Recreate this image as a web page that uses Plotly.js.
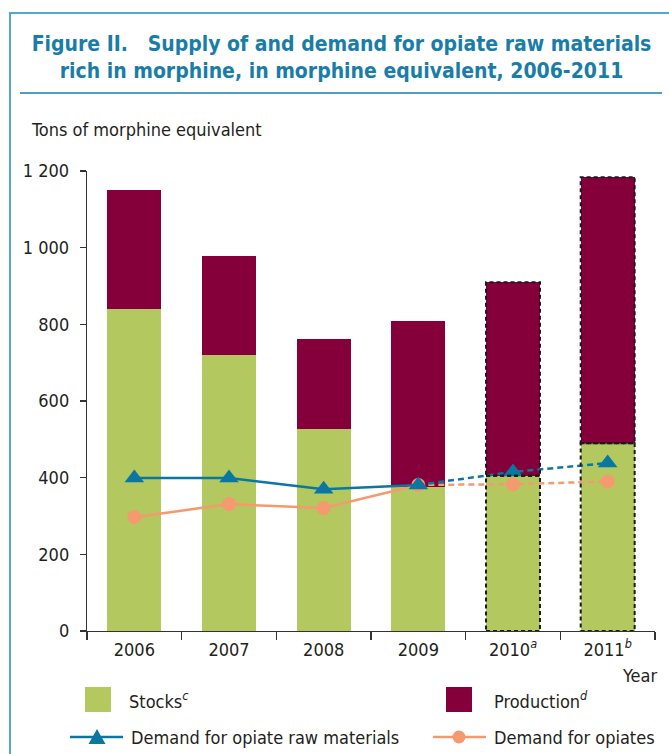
<!DOCTYPE html>
<html>
<head>
<meta charset="utf-8">
<script src="https://cdn.plot.ly/plotly-3.0.1.min.js"></script>
<style>
  html, body { margin: 0; padding: 0; background: #ffffff; }
  #chart { width: 669px; height: 754px; }
</style>
</head>
<body>
<div id="chart"></div>
<script>
// ---- Data ----
const years = ['2006', '2007', '2008', '2009', '2010', '2011'];
const yearLabels = ['2006', '2007', '2008', '2009', '2010<sup><i>a</i></sup>', '2011<sup><i>b</i></sup>'];
const stocks = [840, 720, 527, 376, 405, 490];
const production = [310, 258, 235, 433, 505, 694];
const demandRawMaterials = [399, 399, 370, 381, 415, 438];
const demandOpiates = [297, 331, 321, 381, 383, 390];
const estimated = [false, false, false, false, true, true];
const yTicks = [0, 200, 400, 600, 800, 1000, 1200];

// ---- Styles ----
const FONT = '"DejaVu Sans Condensed", "Liberation Sans Narrow", "Arial Narrow", sans-serif';
const FS = 18;
const TXT = '#231f20';
const C_STOCK = '#b3c85f';
const C_PROD = '#85003a';
const C_BLUE = '#0a77a3';
const C_ORANGE = '#f59a6e';
const C_TITLE = '#1a7da8';
const C_FRAME = '#52a8cc';
const BAR_W = 0.57;

// plot area in pixels (for decorations)
const L = 87, R = 655, T = 171, B = 631;
const px = x => (x - L) / (R - L);
const py = y => (B - y) / (B - T);

const nSolid = 4; // 2006-2009 solid, 2009-2011 dashed
const solidX = years.slice(0, nSolid);
const dashX = years.slice(nSolid - 1);

const traces = [
  { type: 'bar', name: 'Stocks', x: years, y: stocks, marker: { color: C_STOCK }, showlegend: false },
  { type: 'bar', name: 'Production', x: years, y: production, marker: { color: C_PROD }, showlegend: false },
  { type: 'scatter', mode: 'lines', x: solidX, y: demandOpiates.slice(0, nSolid), line: { color: C_ORANGE, width: 2.5 }, showlegend: false },
  { type: 'scatter', mode: 'lines', x: dashX, y: demandOpiates.slice(nSolid - 1), line: { color: C_ORANGE, width: 2.5, dash: '6px,4px' }, showlegend: false },
  { type: 'scatter', mode: 'markers', name: 'Demand for opiates', x: years, y: demandOpiates, marker: { color: C_ORANGE, size: 14, symbol: 'circle' }, showlegend: false },
  { type: 'scatter', mode: 'lines', x: solidX, y: demandRawMaterials.slice(0, nSolid), line: { color: C_BLUE, width: 2.5 }, showlegend: false },
  { type: 'scatter', mode: 'lines', x: dashX, y: demandRawMaterials.slice(nSolid - 1), line: { color: C_BLUE, width: 2.5, dash: '6px,4px' }, showlegend: false },
  { type: 'scatter', mode: 'markers', name: 'Demand for opiate raw materials', x: years, y: demandRawMaterials, marker: { color: C_BLUE, size: 17, symbol: 'triangle-up' }, showlegend: false }
];

const shapes = [];
// dashed outlines of estimated bars (built from the data)
estimated.forEach((est, i) => {
  if (!est) return;
  const seg = [[0, stocks[i]], [stocks[i], stocks[i] + production[i]]];
  seg.forEach(([a, b]) => {
    shapes.push({ type: 'rect', xref: 'x', yref: 'y', x0: i - BAR_W / 2, x1: i + BAR_W / 2, y0: a, y1: b,
      line: { color: '#1a1a1a', width: 2, dash: '4px,3px' }, fillcolor: 'rgba(0,0,0,0)', layer: 'above' });
  });
});
// frame and title rule
shapes.push({ type: 'line', xref: 'paper', yref: 'paper', x0: px(10), x1: px(10), y0: py(13), y1: py(760), line: { color: C_FRAME, width: 2 } });
shapes.push({ type: 'line', xref: 'paper', yref: 'paper', x0: px(9), x1: px(675), y0: py(13), y1: py(13), line: { color: C_FRAME, width: 2 } });
shapes.push({ type: 'line', xref: 'paper', yref: 'paper', x0: px(20), x1: px(662), y0: py(93), y1: py(93), line: { color: C_TITLE, width: 1.3 } });
// legend symbols
shapes.push({ type: 'rect', xref: 'paper', yref: 'paper', x0: px(85), x1: px(111), y0: py(712), y1: py(687), fillcolor: C_STOCK, line: { width: 0 } });
shapes.push({ type: 'rect', xref: 'paper', yref: 'paper', x0: px(446), x1: px(472), y0: py(712), y1: py(687), fillcolor: C_PROD, line: { width: 0 } });
shapes.push({ type: 'line', xref: 'paper', yref: 'paper', x0: px(70), x1: px(123), y0: py(737), y1: py(737), line: { color: C_BLUE, width: 2.5 } });
shapes.push({ type: 'path', xref: 'paper', yref: 'paper',
  path: `M ${px(88.5)} ${py(744)} L ${px(105.5)} ${py(744)} L ${px(97)} ${py(729)} Z`, fillcolor: C_BLUE, line: { width: 0 } });
shapes.push({ type: 'line', xref: 'paper', yref: 'paper', x0: px(433), x1: px(486), y0: py(737), y1: py(737), line: { color: C_ORANGE, width: 2.5 } });
shapes.push({ type: 'circle', xref: 'paper', yref: 'paper', x0: px(452.5), x1: px(465.5), y0: py(743.5), y1: py(730.5), fillcolor: C_ORANGE, line: { width: 0 } });

const annFont = { family: FONT, size: FS, color: TXT };
const annotations = [
  { xref: 'paper', yref: 'paper', x: px(29), y: py(130), xanchor: 'left', yanchor: 'middle', showarrow: false, text: 'Tons of morphine equivalent', font: annFont },
  { xref: 'paper', yref: 'paper', x: px(659), y: py(675), xanchor: 'right', yanchor: 'middle', showarrow: false, text: 'Year', font: annFont },
  { xref: 'paper', yref: 'paper', x: px(127), y: py(700), xanchor: 'left', yanchor: 'middle', showarrow: false, text: 'Stocks<sup><i>c</i></sup>', font: annFont },
  { xref: 'paper', yref: 'paper', x: px(492), y: py(700), xanchor: 'left', yanchor: 'middle', showarrow: false, text: 'Production<sup><i>d</i></sup>', font: annFont },
  { xref: 'paper', yref: 'paper', x: px(129), y: py(737), xanchor: 'left', yanchor: 'middle', showarrow: false, text: 'Demand for opiate raw materials', font: annFont },
  { xref: 'paper', yref: 'paper', x: px(492), y: py(737), xanchor: 'left', yanchor: 'middle', showarrow: false, text: 'Demand for opiates', font: annFont }
];

const layout = {
  width: 669, height: 754,
  margin: { l: L, r: 669 - R, t: T, b: 754 - B, pad: 0 },
  paper_bgcolor: '#ffffff', plot_bgcolor: '#ffffff',
  barmode: 'stack', bargap: 1 - BAR_W,
  separators: '. ',
  font: { family: FONT, size: FS, color: TXT },
  title: {
    text: 'Figure II.\u00a0\u00a0\u00a0Supply of and demand for opiate raw materials<br>rich in morphine, in morphine equivalent, 2006-2011',
    font: { family: FONT, size: 21, color: C_TITLE, weight: 'bold' },
    x: 341.5 / 669, xanchor: 'center', xref: 'container',
    y: 1 - 51 / 754, yanchor: 'middle', yref: 'container'
  },
  xaxis: {
    type: 'category', tickvals: years, ticktext: yearLabels,
    tickson: 'boundaries', ticks: 'outside', ticklen: 8, tickcolor: '#333', tickwidth: 1.2,
    showline: true, linecolor: '#333', linewidth: 1.2, showgrid: false, zeroline: false,
    tickfont: { family: FONT, size: FS, color: TXT }, ticklabelstandoff: 2, fixedrange: true
  },
  yaxis: {
    range: [0, 1200], tickvals: yTicks, separatethousands: true,
    ticks: 'outside', ticklen: 6, tickcolor: '#333', tickwidth: 1.2,
    showline: true, linecolor: '#333', linewidth: 1.2, showgrid: false, zeroline: false,
    tickfont: { family: FONT, size: FS, color: TXT }, ticklabelstandoff: 7, fixedrange: true
  },
  shapes: shapes,
  annotations: annotations,
  showlegend: false
};

Plotly.newPlot('chart', traces, layout, { displayModeBar: false, staticPlot: true });
</script>
</body>
</html>
